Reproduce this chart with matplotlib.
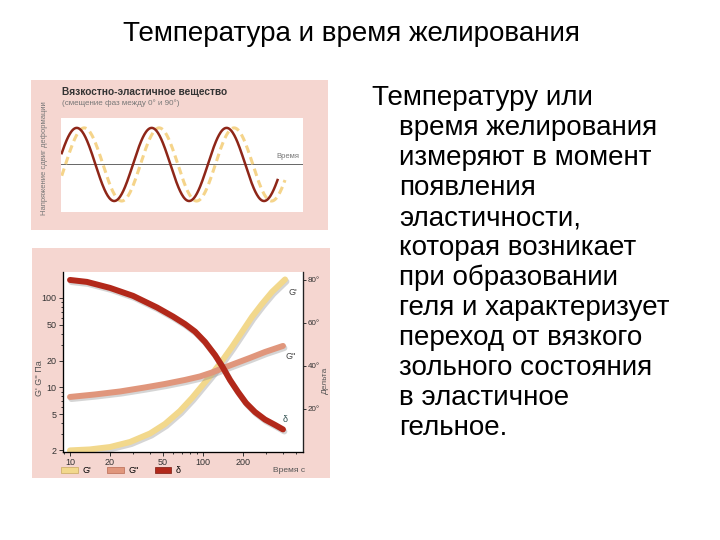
import numpy as np
import matplotlib
matplotlib.use('Agg')
import matplotlib.pyplot as plt
from matplotlib.patches import Rectangle, Patch
from matplotlib.ticker import NullFormatter
import matplotlib.patheffects as pe

plt.rcParams['font.family'] = ['Liberation Sans', 'DejaVu Sans']

# slide text
title = 'Температура и время желирования'
body_lines = ['Температуру или', 'время желирования', 'измеряют в момент',
              'появления', 'эластичности,', 'которая возникает',
              'при образовании', 'геля и характеризует', 'переход от вязкого',
              'зольного состояния', 'в эластичное', 'гельное.']

# top chart: shear stress vs deformation (in periods)
red_span = (0.05, 2.93)
yellow_span = (0.05, 3.03)
phase_lag = 0.1          # fraction of a period (~36°)
amplitude = 1.0

# bottom chart: gelation time, log axes
g1_time = [10, 14.1, 20.0, 28.3, 40.0, 51.8, 67.1, 82.7, 98.3, 116.9, 139, 165.2, 196.4,
           233.6, 277.7, 330.3, 414]
g1_val = [1.98, 2.03, 2.16, 2.46, 3.06, 3.91, 5.46, 7.63, 10.4, 14.2, 19.8, 28.4, 41.7,
          61.4, 85.7, 116.7, 161]
g2_time = [10, 15.4, 23.8, 36.6, 51.8, 73.2, 94.9, 116.9, 139, 174, 225.7, 292.5, 399.5]
g2_val = [7.83, 8.35, 9.02, 10.0, 10.94, 12.13, 13.27, 14.7, 16.3, 18.5, 21.4, 24.9, 29.1]
d_time = [10, 13.4, 20.0, 29.8, 45.1, 59.5, 73.2, 87.1, 103.5, 123.1, 139, 159.6, 183.3,
          210.5, 246, 292.5, 348, 399.5]
d_val = [80.0, 79.1, 76.3, 72.6, 67.2, 63.0, 59.5, 56.0, 51.2, 45.1, 40.0, 33.5, 27.9,
         22.8, 18.6, 15.1, 12.6, 10.5]
x_ticks = [10, 20, 50, 100, 200]
y_ticks = [2, 5, 10, 20, 50, 100]
d_ticks = [20, 40, 60, 80]

pink = '#f5d6d0'
c_g1 = '#f2d88c'
c_g2 = '#e0967c'
c_d = '#b2281a'

fig = plt.figure(figsize=(7.2, 5.4), dpi=100)
W, H = 720, 540


def fx(px):
    return px / W


def fy(py):
    return 1 - py / H


fig.text(fx(351), fy(41), title, ha='center', va='baseline', fontsize=20)
fig.text(fx(372), fy(105), body_lines[0], ha='left', va='baseline', fontsize=20)
for i, line in enumerate(body_lines[1:], start=1):
    fig.text(fx(399), fy(105 + 30 * i), line, ha='left', va='baseline', fontsize=20)

# pink panels (behind the axes)
fig.patches.append(Rectangle((fx(31), fy(230)), fx(297), 150 / H, transform=fig.transFigure,
                             facecolor=pink, edgecolor='none', zorder=-5))
fig.patches.append(Rectangle((fx(32), fy(478)), fx(298), 230 / H, transform=fig.transFigure,
                             facecolor=pink, edgecolor='none', zorder=-5))

# ---- top chart
ax1 = fig.add_axes([fx(61), fy(212), fx(242), 94 / H])
ax1.set_facecolor('white')
t_r = np.linspace(red_span[0], red_span[1], 400)
t_y = np.linspace(yellow_span[0], yellow_span[1], 400)
ax1.axhline(0, color='#666666', lw=0.7)
ax1.plot(t_y, amplitude * np.sin(2 * np.pi * (t_y - phase_lag)), color='#f5d48a', lw=2.2,
         dashes=(2.5, 1.5))
ax1.plot(t_r, amplitude * np.sin(2 * np.pi * t_r), color='#8e2618', lw=1.8)
ax1.set_xlim(0.04, 3.27)
ax1.set_ylim(-1.30, 1.27)
ax1.set_xticks([])
ax1.set_yticks([])
for s in ax1.spines.values():
    s.set_visible(False)
ax1.text(2.92, 0.12, 'Время', fontsize=5.5, color='#777777', ha='left', va='bottom')
fig.text(fx(62), fy(92), 'Вязкостно-эластичное вещество', fontsize=7.3, fontweight='bold',
         color='#333333', ha='left', va='center')
fig.text(fx(62), fy(103), '(смещение фаз между 0° и 90°)', fontsize=5.8,
         color='#777777', ha='left', va='center')
fig.text(fx(45), fy(158), 'Напряжение сдвиг деформации', fontsize=5.5, color='#777777',
         rotation=90, ha='center', va='center')

# ---- bottom chart
ax2 = fig.add_axes([fx(62.7), fy(452), fx(240.3), 180 / H])
ax2.set_facecolor('white')
shadow = [pe.SimpleLineShadow(offset=(1, -1.5), shadow_color='#888888', alpha=0.35), pe.Normal()]
line_kw = dict(lw=4.3, solid_capstyle='round', solid_joinstyle='round', path_effects=shadow)
ax2.plot(g1_time, g1_val, color=c_g1, **line_kw)
ax2.plot(g2_time, g2_val, color=c_g2, **line_kw)
ax2.set_xscale('log')
ax2.set_yscale('log')
ax2.set_xlim(8.81, 565)
ax2.set_ylim(1.90, 195)
ax2.set_xticks(x_ticks)
ax2.set_xticklabels([str(v) for v in x_ticks])
ax2.set_yticks(y_ticks)
ax2.set_yticklabels([str(v) for v in y_ticks])
ax2.xaxis.set_minor_formatter(NullFormatter())
ax2.yaxis.set_minor_formatter(NullFormatter())
ax2.tick_params(which='both', labelsize=6.5, colors='#333333', length=3, width=0.7, pad=1.5)
ax2.tick_params(which='minor', length=1.5)
ax2.spines['top'].set_visible(False)
for s in ['left', 'bottom', 'right']:
    ax2.spines[s].set_color('#222222')
    ax2.spines[s].set_linewidth(0.9)
ax2.set_ylabel("G' G'' Па", fontsize=6.5, color='#555555')
ax2.yaxis.set_label_coords(-0.076, 0.41)

ax3 = ax2.twinx()
ax3.plot(d_time, d_val, color=c_d, **line_kw)
ax3.set_ylim(0, 83.7)
ax3.set_yticks(d_ticks)
ax3.set_yticklabels([f'{v}°' for v in d_ticks])
ax3.tick_params(labelsize=5.8, colors='#333333', length=2.5, width=0.7, pad=1)
ax3.spines['top'].set_visible(False)
ax3.spines['right'].set_color('#222222')
ax3.set_ylabel('Дельта', fontsize=6, color='#555555')
ax3.yaxis.set_label_coords(1.078, 0.4)

ax2.annotate("G'", (g1_time[-1], g1_val[-1]), xytext=(3, -13), textcoords='offset pixels',
             fontsize=6.5, color='#444444', ha='left', va='center')
ax2.annotate("G''", (g2_time[-1], g2_val[-1]), xytext=(3, -11), textcoords='offset pixels',
             fontsize=6.5, color='#444444', ha='left', va='center')
ax3.annotate('δ', (d_time[-1], d_val[-1]), xytext=(0, 10), textcoords='offset pixels',
             fontsize=6.5, color='#2f4f4f', ha='left', va='center')

handles = [Patch(facecolor=c_g1, edgecolor='#c9a860', lw=0.5),
           Patch(facecolor=c_g2, edgecolor='#b86a52', lw=0.5),
           Patch(facecolor=c_d, edgecolor='#7a1a10', lw=0.5)]
ax2.legend(handles, ["G'", "G''", 'δ'], loc='upper left', bbox_to_anchor=(-0.005, -0.078),
           ncol=3, frameon=False, fontsize=6.5, handlelength=1.8, handleheight=0.6,
           handletextpad=0.5, columnspacing=1.8, borderaxespad=0, borderpad=0)
fig.text(fx(273), fy(470), 'Время с', fontsize=6, color='#555555', ha='left', va='center')

fig.savefig('out.png', dpi=100, facecolor='white')
